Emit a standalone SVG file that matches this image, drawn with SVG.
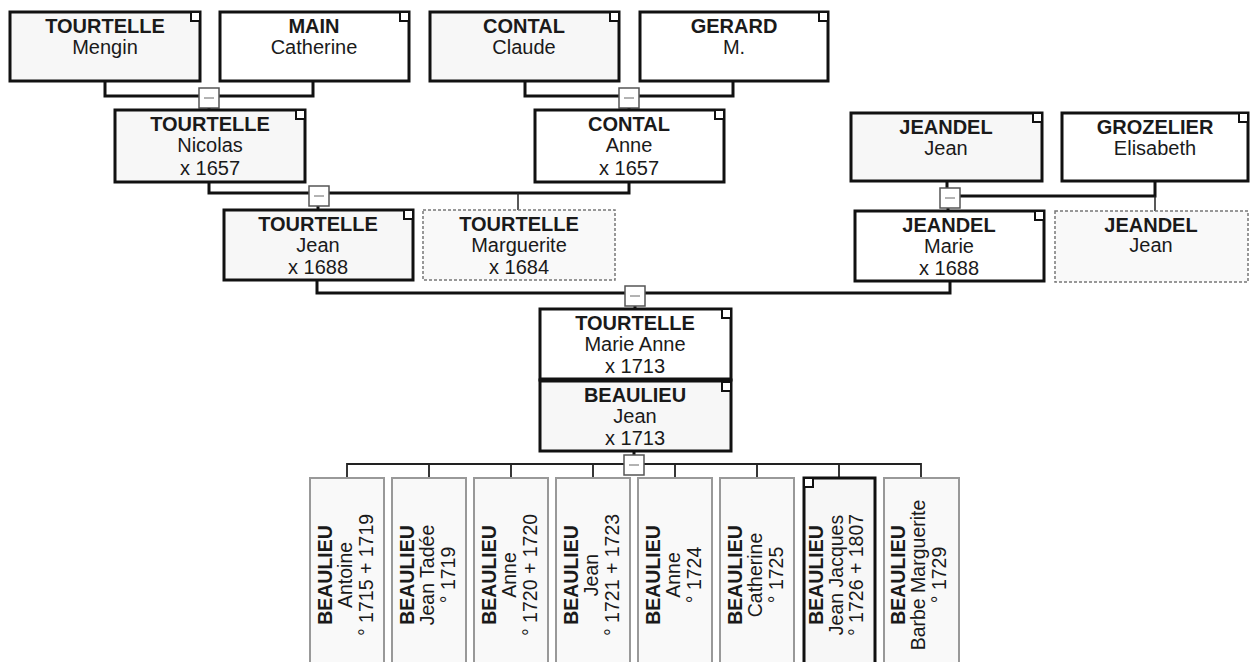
<svg xmlns="http://www.w3.org/2000/svg" width="1251" height="662" viewBox="0 0 1251 662">
<style>
.box{stroke:#111;stroke-width:3}
.m{fill:#f7f7f7}
.f{fill:#fff}
.dot{fill:#f9f9f9;stroke:#777;stroke-width:1.5;stroke-dasharray:3 2}
.child{fill:#f9f9f9;stroke:#999;stroke-width:2}
.corner{fill:#fff;stroke:#111;stroke-width:2}
.ln{fill:none;stroke:#111;stroke-width:3}
.thin{fill:none;stroke:#222;stroke-width:1.5}
.jb{fill:#fff;stroke:#555;stroke-width:1.5}
.jm{stroke:#666;stroke-width:1}
text{font-family:"Liberation Sans",Arial,sans-serif;font-size:20px;fill:#1a1a1a;text-anchor:middle}
.b{font-weight:bold}
.c{font-size:19.5px}
</style>
<defs>
<g id="junction"><rect class="jb" x="-10" y="-10" width="20" height="20"/><line class="jm" x1="-5" y1="0" x2="5" y2="0"/></g>
</defs>
<g id="connectors">
<path class="ln" d="M105,81 V96 H313 V81"/>
<path class="ln" d="M209,96 V110"/>
<path class="ln" d="M525,81 V96 H733 V81"/>
<path class="ln" d="M629,96 V110"/>
<path class="ln" d="M209,182 V193 H629 V182"/>
<path class="ln" d="M318,193 V210"/>
<path class="thin" d="M518,193 V210"/>
<path class="ln" d="M947,181 V196 H1155 V181"/>
<path class="ln" d="M948,196 V211"/>
<path class="thin" d="M1155,196 V211"/>
<path class="ln" d="M317,280 V293 H950 V281"/>
<path class="ln" d="M635,293 V309"/>
<path class="ln" d="M634,451 V464"/>
<path class="thin" d="M347,478 V464 H921 V478 M429,464 V478 M511,464 V478 M593,464 V478 M675,464 V478 M757,464 V478 M839,464 V478" style="stroke-width:1.8"/>
<use href="#junction" x="209" y="98"/>
<use href="#junction" x="629" y="98"/>
<use href="#junction" x="319" y="196"/>
<use href="#junction" x="950" y="198"/>
<use href="#junction" x="635" y="296"/>
<use href="#junction" x="634" y="465"/>
</g>
<g id="n-mengin"><rect class="box m" x="10" y="12" width="190" height="69"/><rect class="corner" x="191" y="12" width="9" height="9"/><text class="b" x="105" y="33">TOURTELLE</text><text x="105" y="54">Mengin</text></g>
<g id="n-catherine"><rect class="box f" x="220" y="12" width="189" height="69"/><rect class="corner" x="400" y="12" width="9" height="9"/><text class="b" x="314" y="33">MAIN</text><text x="314" y="54">Catherine</text></g>
<g id="n-claude"><rect class="box m" x="430" y="12" width="189" height="69"/><rect class="corner" x="610" y="12" width="9" height="9"/><text class="b" x="524" y="33">CONTAL</text><text x="524" y="54">Claude</text></g>
<g id="n-gerard"><rect class="box f" x="640" y="12" width="188" height="69"/><rect class="corner" x="819" y="12" width="9" height="9"/><text class="b" x="734" y="33">GERARD</text><text x="734" y="54">M.</text></g>
<g id="n-nicolas"><rect class="box m" x="115" y="110" width="190" height="72"/><rect class="corner" x="296" y="110" width="9" height="9"/><text class="b" x="210" y="131">TOURTELLE</text><text x="210" y="152">Nicolas</text><text x="210" y="175">x 1657</text></g>
<g id="n-anne"><rect class="box f" x="535" y="110" width="189" height="72"/><rect class="corner" x="715" y="110" width="9" height="9"/><text class="b" x="629" y="131">CONTAL</text><text x="629" y="152">Anne</text><text x="629" y="175">x 1657</text></g>
<g id="n-jeandel-jean"><rect class="box m" x="851" y="113" width="191" height="68"/><rect class="corner" x="1033" y="113" width="9" height="9"/><text class="b" x="946" y="134">JEANDEL</text><text x="946" y="155">Jean</text></g>
<g id="n-grozelier"><rect class="box f" x="1062" y="113" width="186" height="68"/><rect class="corner" x="1239" y="113" width="9" height="9"/><text class="b" x="1155" y="134">GROZELIER</text><text x="1155" y="155">Elisabeth</text></g>
<g id="n-jean"><rect class="box m" x="224" y="210" width="189" height="70"/><rect class="corner" x="404" y="210" width="9" height="9"/><text class="b" x="318" y="231">TOURTELLE</text><text x="318" y="252">Jean</text><text x="318" y="274">x 1688</text></g>
<g id="n-marguerite"><rect class="dot" x="423" y="210" width="192" height="70"/><text class="b" x="519" y="231">TOURTELLE</text><text x="519" y="252">Marguerite</text><text x="519" y="274">x 1684</text></g>
<g id="n-marie"><rect class="box f" x="855" y="211" width="189" height="70"/><rect class="corner" x="1035" y="211" width="9" height="9"/><text class="b" x="949" y="232">JEANDEL</text><text x="949" y="253">Marie</text><text x="949" y="275">x 1688</text></g>
<g id="n-jeandel-jean2"><rect class="dot" x="1055" y="211" width="193" height="71"/><text class="b" x="1151" y="232">JEANDEL</text><text x="1151" y="252">Jean</text></g>
<g id="n-marie-anne"><rect class="box f" x="540" y="309" width="191" height="71"/><rect class="corner" x="722" y="309" width="9" height="9"/><text class="b" x="635" y="330">TOURTELLE</text><text x="635" y="351">Marie Anne</text><text x="635" y="373">x 1713</text></g>
<g id="n-beaulieu-jean"><rect class="box m" x="540" y="380" width="191" height="71"/><rect class="corner" x="722" y="382" width="9" height="9"/><line x1="540" y1="380" x2="731" y2="380" stroke="#111" stroke-width="5"/><text class="b" x="635" y="402">BEAULIEU</text><text x="635" y="423">Jean</text><text x="635" y="445">x 1713</text></g>
<g id="c-antoine"><rect class="child" x="310" y="478" width="74" height="200"/><g transform="translate(0,575)"><text class="b c" transform="translate(332,0) rotate(-90)">BEAULIEU</text><text class="c" transform="translate(352,0) rotate(-90)">Antoine</text><text class="c" transform="translate(373,0) rotate(-90)">° 1715 + 1719</text></g></g>
<g id="c-jean-tadee"><rect class="child" x="392" y="478" width="74" height="200"/><g transform="translate(0,575)"><text class="b c" transform="translate(414,0) rotate(-90)">BEAULIEU</text><text class="c" transform="translate(434,0) rotate(-90)">Jean Tadée</text><text class="c" transform="translate(455,0) rotate(-90)">° 1719</text></g></g>
<g id="c-anne1"><rect class="child" x="474" y="478" width="74" height="200"/><g transform="translate(0,575)"><text class="b c" transform="translate(496,0) rotate(-90)">BEAULIEU</text><text class="c" transform="translate(516,0) rotate(-90)">Anne</text><text class="c" transform="translate(537,0) rotate(-90)">° 1720 + 1720</text></g></g>
<g id="c-jean"><rect class="child" x="556" y="478" width="74" height="200"/><g transform="translate(0,575)"><text class="b c" transform="translate(578,0) rotate(-90)">BEAULIEU</text><text class="c" transform="translate(598,0) rotate(-90)">Jean</text><text class="c" transform="translate(619,0) rotate(-90)">° 1721 + 1723</text></g></g>
<g id="c-anne2"><rect class="child" x="638" y="478" width="74" height="200"/><g transform="translate(0,575)"><text class="b c" transform="translate(660,0) rotate(-90)">BEAULIEU</text><text class="c" transform="translate(680,0) rotate(-90)">Anne</text><text class="c" transform="translate(701,0) rotate(-90)">° 1724</text></g></g>
<g id="c-catherine"><rect class="child" x="720" y="478" width="74" height="200"/><g transform="translate(0,575)"><text class="b c" transform="translate(742,0) rotate(-90)">BEAULIEU</text><text class="c" transform="translate(762,0) rotate(-90)">Catherine</text><text class="c" transform="translate(783,0) rotate(-90)">° 1725</text></g></g>
<g id="c-jean-jacques"><rect class="box m" x="804" y="478" width="71" height="200"/><rect class="corner" x="804" y="478" width="9" height="9"/><g transform="translate(0,575)"><text class="b c" transform="translate(823,0) rotate(-90)">BEAULIEU</text><text class="c" transform="translate(843,0) rotate(-90)">Jean Jacques</text><text class="c" transform="translate(863,0) rotate(-90)">° 1726 + 1807</text></g></g>
<g id="c-barbe"><rect class="child" x="884" y="478" width="75" height="200"/><g transform="translate(0,575)"><text class="b c" transform="translate(905,0) rotate(-90)">BEAULIEU</text><text class="c" transform="translate(925,0) rotate(-90)">Barbe Marguerite</text><text class="c" transform="translate(946,0) rotate(-90)">° 1729</text></g></g>
</svg>
